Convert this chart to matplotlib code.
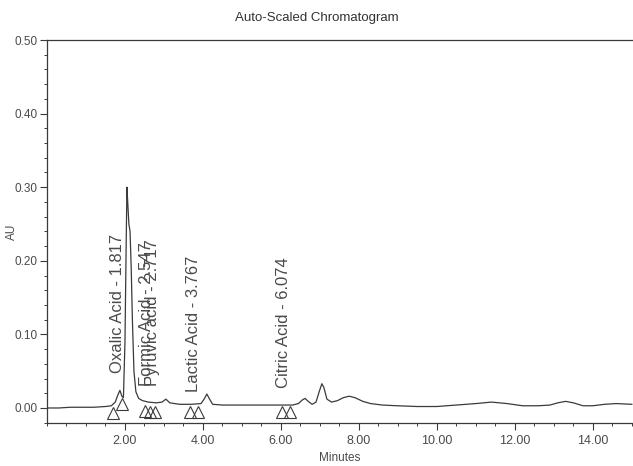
import matplotlib
matplotlib.use("Agg")
import matplotlib.pyplot as plt
from matplotlib.ticker import MultipleLocator, FixedLocator

# ---- data ----
time_min = [0.0, 0.3, 0.6, 0.9, 1.2, 1.5, 1.65, 1.75, 1.82, 1.87, 1.92, 1.96, 2.0, 2.03, 2.05,
            2.07, 2.1, 2.13, 2.16, 2.19, 2.23, 2.28, 2.35, 2.45, 2.6, 2.8, 2.95, 3.05, 3.15,
            3.4, 3.7, 3.95, 4.03, 4.1, 4.17, 4.25, 4.5, 5.0, 5.5, 6.0, 6.3, 6.45, 6.55, 6.62,
            6.7, 6.8, 6.9, 6.98, 7.05, 7.1, 7.18, 7.3, 7.45, 7.6, 7.75, 7.9, 8.1, 8.3, 8.6,
            9.0, 9.5, 10.0, 10.5, 11.0, 11.4, 11.8, 12.2, 12.6, 12.9, 13.1, 13.3, 13.5, 13.75,
            14.0, 14.3, 14.6, 15.0]
au = [0.000, 0.000, 0.001, 0.001, 0.001, 0.002, 0.003, 0.008, 0.018, 0.024, 0.016, 0.014, 0.090,
      0.220, 0.300, 0.280, 0.250, 0.240, 0.190, 0.120, 0.050, 0.022, 0.013, 0.010, 0.008, 0.007,
      0.008, 0.012, 0.007, 0.005, 0.005, 0.006, 0.012, 0.019, 0.012, 0.005, 0.004, 0.004, 0.004,
      0.004, 0.004, 0.006, 0.011, 0.013, 0.009, 0.005, 0.008, 0.022, 0.033, 0.028, 0.012, 0.008,
      0.010, 0.014, 0.016, 0.014, 0.009, 0.006, 0.004, 0.003, 0.002, 0.002, 0.004, 0.006, 0.008,
      0.006, 0.003, 0.003, 0.004, 0.007, 0.009, 0.007, 0.003, 0.003, 0.005, 0.006, 0.005]

peak_names = ["Oxalic Acid - 1.817", "Formic Acid - 2.547", "Pyruvic acid - 2.717",
              "Lactic Acid - 3.767", "Citric Acid - 6.074"]
peak_times = [1.817, 2.547, 2.717, 3.767, 6.074]
label_base = [0.047, 0.030, 0.030, 0.022, 0.027]

marker_t = [1.69, 1.92, 2.51, 2.64, 2.77, 3.67, 3.87, 6.03, 6.23]
marker_au = [-0.007, 0.006, -0.004, -0.005, -0.005, -0.005, -0.005, -0.005, -0.005]

x_ticks = [2, 4, 6, 8, 10, 12, 14]
y_ticks = [0.0, 0.1, 0.2, 0.3, 0.4, 0.5]

# ---- figure ----
ink = "#3a3a3a"
txt = "#4a4a4a"
plt.rcParams["font.family"] = ["Liberation Sans", "DejaVu Sans"]

fig = plt.figure(figsize=(6.33, 4.66), dpi=100)
ax = fig.add_axes([47 / 633, (466 - 423) / 466, (633 - 47) / 633, (423 - 40) / 466])

ax.plot(time_min, au, color=ink, lw=0.9)
ax.plot(marker_t, marker_au, linestyle="none", marker="^", ms=8,
        markerfacecolor="none", markeredgecolor=ink, mew=0.8)

for name, t, yb in zip(peak_names, peak_times, label_base):
    ax.text(t, yb, name, rotation=90, ha="center", va="bottom", fontsize=12, color=txt)

ax.set_xlim(0, 15.03)
ax.set_ylim(-0.0204, 0.50)

ax.xaxis.set_major_locator(FixedLocator(x_ticks))
ax.xaxis.set_minor_locator(MultipleLocator(0.5))
ax.yaxis.set_major_locator(FixedLocator(y_ticks))
ax.yaxis.set_minor_locator(MultipleLocator(0.02))
ax.set_xticklabels([f"{v:.2f}" for v in x_ticks])
ax.set_yticklabels([f"{v:.2f}" for v in y_ticks])

ax.tick_params(axis="both", which="major", direction="out", length=5, width=0.8,
               color=ink, labelcolor=txt, labelsize=9)
ax.tick_params(axis="y", which="major", labelsize=8.5, pad=2)
ax.tick_params(axis="both", which="minor", direction="out", length=2.5, width=0.7, color=ink)
ax.tick_params(axis="x", which="major", pad=4)

for s in ["left", "bottom", "top"]:
    ax.spines[s].set_color(ink)
    ax.spines[s].set_linewidth(0.9)
ax.spines["right"].set_visible(False)

ax.set_xlabel("Minutes", fontsize=8.5, color=txt, labelpad=3)
ax.set_ylabel("AU", fontsize=8.5, color=txt)
ax.yaxis.set_label_coords((18 - 47) / 586, 0.5)
fig.text(0.5, 1 - 18 / 466, "Auto-Scaled Chromatogram", ha="center", va="center",
         fontsize=9.5, color="#333333")

fig.savefig("out.png", dpi=100)
